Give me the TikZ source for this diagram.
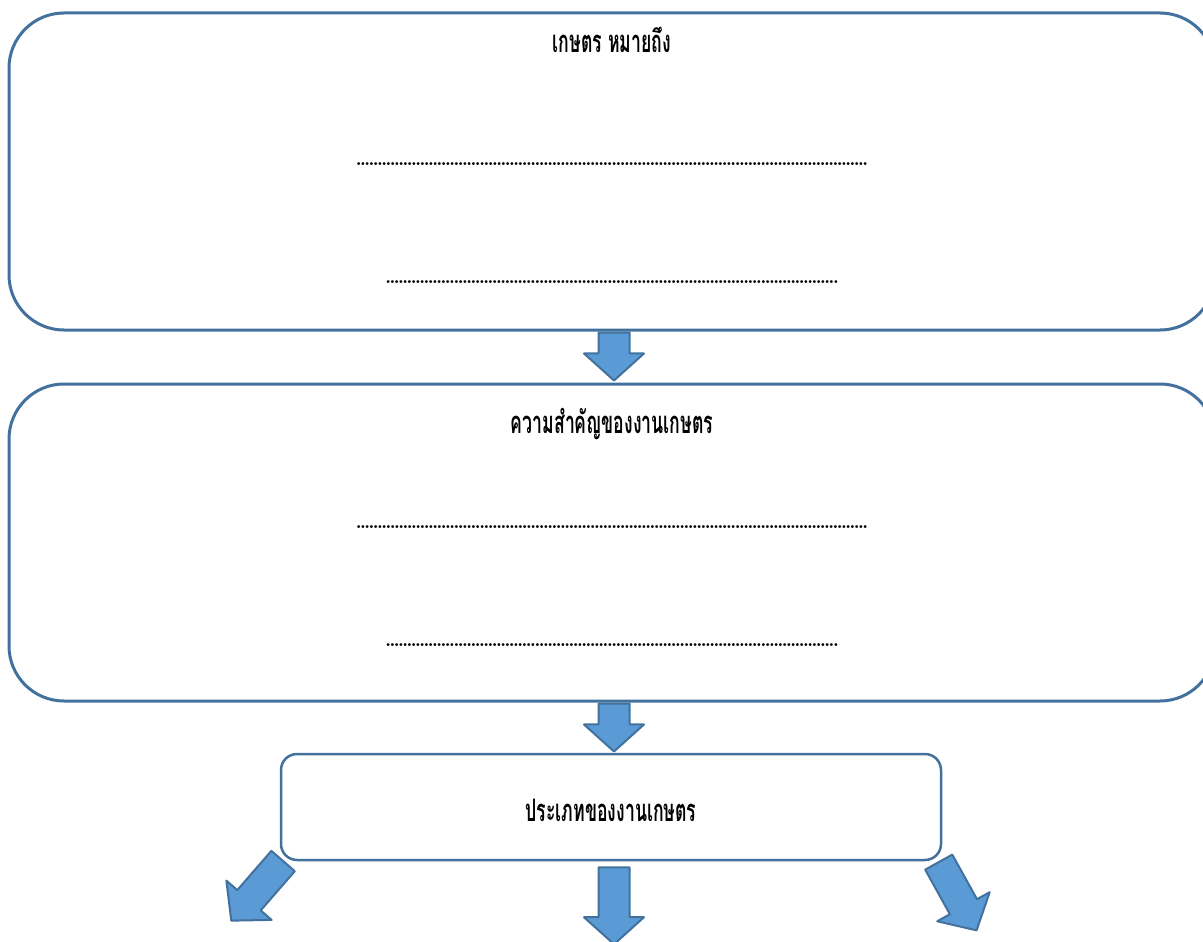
\documentclass[tikz,border=0pt]{standalone}
\usepackage{fontspec}
\newfontfamily\thaifont[Script=Thai,FakeStretch=0.57]{Loma}
\usetikzlibrary{shapes.arrows}
\definecolor{boxline}{HTML}{41719C}
\definecolor{arrowfill}{HTML}{5B9BD5}
\tikzset{
  bigbox/.style={draw=boxline, line width=3pt, rounded corners=55pt, minimum width=1206pt, minimum height=317pt},
  smallbox/.style={draw=boxline, line width=2.5pt, rounded corners=16pt, minimum width=660pt, minimum height=106pt},
  title/.style={font=\thaifont\bfseries\fontsize{31}{34}\selectfont, inner sep=0pt},
  dotline/.style={font=\bfseries\fontsize{20}{20}\selectfont, inner sep=0pt},
  blockarrow/.style={single arrow, draw=boxline, fill=arrowfill, line width=2pt, inner xsep=0pt, inner ysep=14.5pt, single arrow head extend=14.5pt, single arrow tip angle=96, anchor=tail}
}
\newcommand{\dotrow}[1]{\hbox to #1{\xleaders\hbox to 4.25pt{\hss.\hss}\hfill}}
\begin{document}
\begin{tikzpicture}[x=1pt, y=-1pt, line join=round]
\useasboundingbox (0,0) rectangle (1203,942);
\clip (0,0) rectangle (1203,942);
\node[bigbox] (meaning) at (612,171.5) {};
\node[bigbox] (importance) at (612,542.5) {};
\node[smallbox] (types) at (611,807) {};
\node[title] (meaningtitle) at (612,40) {เกษตร หมายถึง};
\node[title] (importancetitle) at (612,424) {ความสำคัญของงานเกษตร};
\node[title] (typestitle) at (611,810) {ประเภทของงานเกษตร};
\foreach \name/\y/\w in {meaningdotsa/164/511, meaningdotsb/282/452, importancedotsa/527/511, importancedotsb/645/452}{
  \node[dotline] (\name) at (612,\y) {\dotrow{\w pt}};
}
\node[blockarrow, minimum height=48pt, rotate=-90] (arrowa) at ([xshift=2pt]meaning.south) {};
\node[blockarrow, minimum height=48pt, rotate=-90] (arrowb) at ([xshift=2pt]importance.south) {};
\node[blockarrow, minimum height=77pt, rotate=-90] (arrowc) at ([xshift=3pt, yshift=-5pt]types.south) {};
\node[blockarrow, minimum height=79pt, rotate=229] (arrowd) at ([xshift=4pt, yshift=1pt]types.south west) {};
\node[blockarrow, minimum height=78pt, rotate=-61] (arrowe) at ([xshift=-4pt]types.south east) {};
\end{tikzpicture}
\end{document}
